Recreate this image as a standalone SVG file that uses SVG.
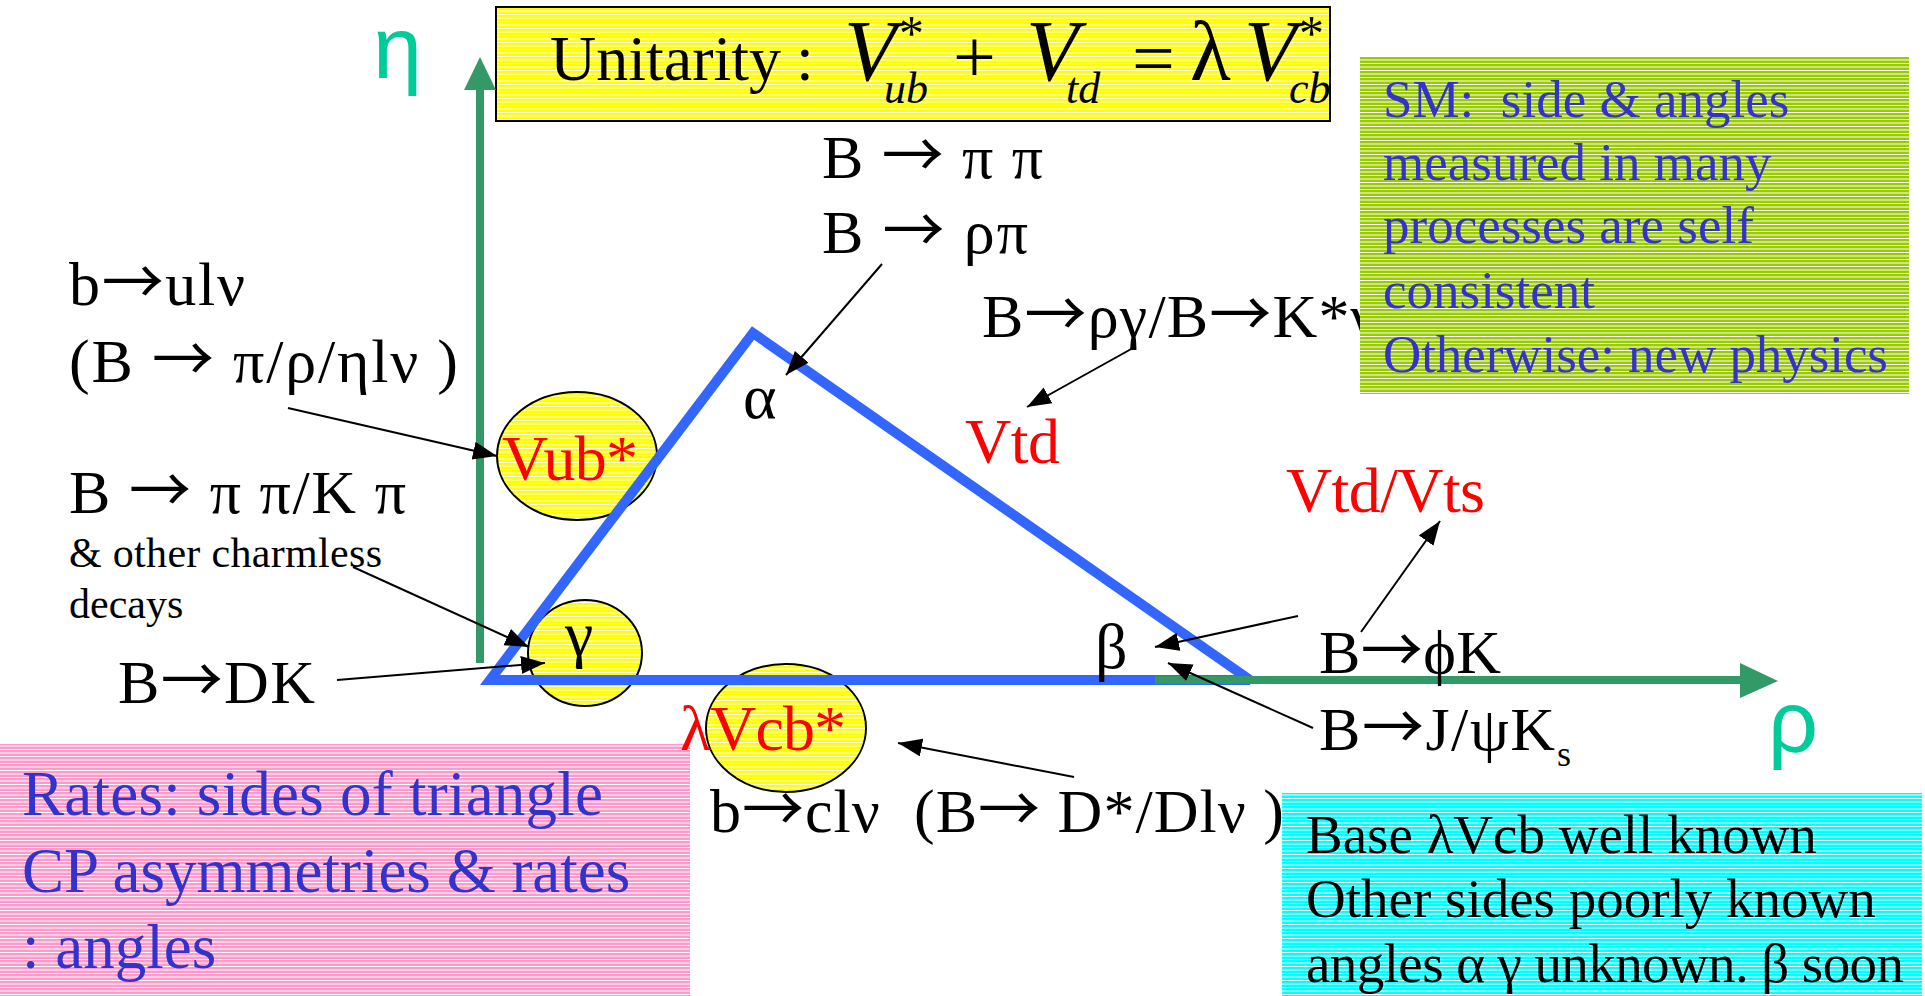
<svg xmlns="http://www.w3.org/2000/svg" width="1925" height="996" viewBox="0 0 1925 996">
<defs>
<pattern id="pY" width="10" height="7" patternUnits="userSpaceOnUse"><rect width="10" height="7" fill="#FFFF00"/><rect y="0" width="10" height="1" fill="#FFFFFF"/><rect y="3.5" width="10" height="1" fill="#FFFFFF"/></pattern>
<pattern id="pG" width="10" height="7" patternUnits="userSpaceOnUse"><rect width="10" height="7" fill="#99CC00"/><rect y="0" width="10" height="1" fill="#FFFFFF"/><rect y="3.5" width="10" height="1" fill="#FFFFFF"/></pattern>
<pattern id="pP" width="10" height="7" patternUnits="userSpaceOnUse"><rect width="10" height="7" fill="#FF99CC"/><rect y="0" width="10" height="1" fill="#FFFFFF"/><rect y="3.5" width="10" height="1" fill="#FFFFFF"/></pattern>
<pattern id="pC" width="10" height="7" patternUnits="userSpaceOnUse"><rect width="10" height="7" fill="#00FFFF"/><rect y="0" width="10" height="1" fill="#FFFFFF"/><rect y="3.5" width="10" height="1" fill="#FFFFFF"/></pattern>
<marker id="ah" markerUnits="userSpaceOnUse" markerWidth="26" markerHeight="20" refX="24" refY="9" orient="auto"><path d="M0,0 L24,9 L0,18 z" fill="#000"/></marker>
</defs>
<style>
.t{font-family:"Liberation Serif","DejaVu Serif",serif}
.it{font-style:italic}
.s{font-family:"Liberation Sans","DejaVu Sans",sans-serif}
.ar{font-family:"Noto Sans CJK SC","DejaVu Sans",sans-serif}
.k{fill:#000}
.red{fill:#FF0000}
.bt{fill:#3333CC}
.ax{stroke:#339966;stroke-width:8;fill:none}
.axh{fill:#339966}
.arr{stroke:#000;stroke-width:2;fill:none;marker-end:url(#ah)}
.circ{fill:url(#pY);stroke:#000;stroke-width:2}
</style>
<rect width="1925" height="996" fill="#FFFFFF"/>

<g id="rates-box">
<rect x="0" y="744" width="690" height="252" fill="url(#pP)"/>
<text class="t bt" font-size="63" x="22" y="815" textLength="581">Rates: sides of triangle</text>
<text class="t bt" font-size="63" x="22" y="892">CP asymmetries &amp; rates</text>
<text class="t bt" font-size="63" x="22" y="968">: angles</text>
</g>

<g id="title">
<rect x="496" y="7" width="834" height="114" fill="url(#pY)" stroke="#000" stroke-width="2"/>
<text class="t k" font-size="64"><tspan x="550" y="80">Unitarity</tspan><tspan x="796" y="80">:</tspan><tspan class="it" font-size="86" x="844" y="80">V</tspan><tspan font-size="50" x="899" y="50">*</tspan><tspan class="it" font-size="44" x="884" y="103">ub</tspan><tspan font-size="76" x="953" y="82">+</tspan><tspan class="it" font-size="86" x="1026" y="80">V</tspan><tspan class="it" font-size="44" x="1066" y="103">td</tspan><tspan font-size="76" x="1132" y="84">=</tspan><tspan font-size="84" x="1190" y="80">λ</tspan><tspan class="it" font-size="86" x="1244" y="80">V</tspan><tspan font-size="50" x="1299" y="50">*</tspan><tspan class="it" font-size="44" x="1289" y="103">cb</tspan></text>
</g>

<g id="circle-vub"><ellipse class="circ" cx="577" cy="456" rx="80" ry="64"/></g>
<g id="circle-gamma"><ellipse class="circ" cx="585" cy="653" rx="57" ry="53"/></g>
<g id="circle-vcb"><ellipse class="circ" cx="786" cy="728" rx="80" ry="64"/></g>

<g id="triangle">
<polygon points="490,680 753,333 1250,680" fill="none" stroke="#3366FF" stroke-width="10" stroke-linejoin="miter" stroke-miterlimit="3"/>
</g>

<g id="axes">
<line class="ax" x1="480" y1="663" x2="480" y2="88"/>
<polygon class="axh" points="464,90 480,57 496,90"/>
<line class="ax" x1="1155" y1="680" x2="1742" y2="680"/>
<polygon class="axh" points="1740,663 1778,681 1740,698"/>
<text class="s" font-size="88" fill="#00CC99" x="373" y="78">η</text>
<text class="s" font-size="88" fill="#00CC99" x="1768" y="752">ρ</text>
</g>

<g id="labels">
<text class="t red" font-size="64" x="502" y="480" textLength="136">Vub*</text>
<text class="t k" font-size="64" x="565" y="655">γ</text>
<text class="t red" font-size="64" x="680" y="750" textLength="166">λVcb*</text>
<text class="t k" font-size="64" x="743" y="418">α</text>
<text class="t red" font-size="64" x="965" y="463" textLength="95">Vtd</text>
<text class="t red" font-size="64" x="1286" y="512" textLength="199">Vtd/Vts</text>
<text class="t k" font-size="64" x="1095" y="668">β</text>
<text class="t k" font-size="62" x="69" y="305" textLength="176">b<tspan class="ar">→</tspan>ulν</text>
<text class="t k" font-size="62" x="69" y="382" textLength="389" xml:space="preserve">(B <tspan class="ar">→</tspan> π/ρ/ηlν )</text>
<text class="t k" font-size="62" x="69" y="513" textLength="337">B <tspan class="ar">→</tspan> π π/K π</text>
<text class="t k" font-size="42" x="69" y="567" textLength="313">&amp; other charmless</text>
<text class="t k" font-size="42" x="69" y="618">decays</text>
<text class="t k" font-size="62" x="118" y="703" textLength="197">B<tspan class="ar">→</tspan>DK</text>
<text class="t k" font-size="62" x="822" y="178" textLength="221">B <tspan class="ar">→</tspan> π π</text>
<text class="t k" font-size="62" x="822" y="253" textLength="206">B <tspan class="ar">→</tspan> ρπ</text>
<text class="t k" font-size="62" x="982" y="337" textLength="396">B<tspan class="ar">→</tspan>ργ/B<tspan class="ar">→</tspan>K*γ</text>
<text class="t k" font-size="62" x="1319" y="673" textLength="182">B<tspan class="ar">→</tspan>ϕK</text>
<text class="t k" font-size="62" x="1319" y="750"><tspan textLength="236">B<tspan class="ar">→</tspan>J/ψK</tspan><tspan font-size="36" x="1557" y="766">s</tspan></text>
<text class="t k" font-size="62" x="710" y="832" textLength="574" xml:space="preserve">b<tspan class="ar">→</tspan>clν  (B<tspan class="ar">→</tspan> D*/Dlν )</text>
</g>

<g id="connectors">
<line class="arr" x1="288" y1="408" x2="497" y2="456"/>
<line class="arr" x1="353" y1="567" x2="529" y2="647"/>
<line class="arr" x1="337" y1="680" x2="545" y2="663"/>
<line class="arr" x1="882" y1="264" x2="786" y2="375"/>
<line class="arr" x1="1133" y1="348" x2="1027" y2="407"/>
<line class="arr" x1="1361" y1="632" x2="1440" y2="521"/>
<line class="arr" x1="1298" y1="616" x2="1155" y2="647"/>
<line class="arr" x1="1313" y1="728" x2="1168" y2="663"/>
<line class="arr" x1="1074" y1="777" x2="898" y2="743"/>
</g>

<g id="sm-box">
<rect x="1360" y="57" width="549" height="337" fill="url(#pG)"/>
<text class="t bt" font-size="53" x="1383" y="117" xml:space="preserve">SM:  side &amp; angles</text>
<text class="t bt" font-size="53" x="1383" y="180">measured in many</text>
<text class="t bt" font-size="53" x="1383" y="243">processes are self</text>
<text class="t bt" font-size="53" x="1383" y="308">consistent</text>
<text class="t bt" font-size="53" x="1383" y="372" textLength="505">Otherwise: new physics</text>
</g>

<g id="base-box">
<rect x="1282" y="793" width="640" height="203" fill="url(#pC)"/>
<text class="t k" font-size="55" x="1306" y="853">Base λVcb well known</text>
<text class="t k" font-size="55" x="1306" y="917">Other sides poorly known</text>
<text class="t k" font-size="55" x="1306" y="982" textLength="598">angles α γ unknown. β soon</text>
</g>
</svg>
